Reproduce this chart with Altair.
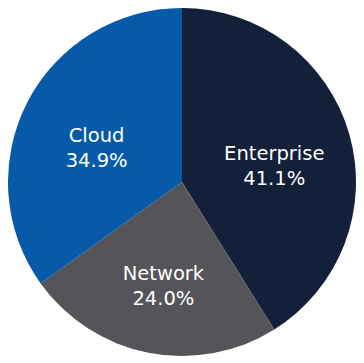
import altair as alt
import pandas as pd

categories = ["Enterprise", "Network", "Cloud"]
shares = [41.1, 24.0, 34.9]
pct_labels = ["41.1%", "24.0%", "34.9%"]
colors = ["#14203a", "#545459", "#075aa8"]

df = pd.DataFrame({
    "category": categories,
    "share": shares,
    "pct": pct_labels,
    "order": list(range(len(categories))),
})

base = alt.Chart(df).encode(
    theta=alt.Theta("share:Q", stack=True),
    order=alt.Order("order:Q"),
)

pie = base.mark_arc(outerRadius=174, strokeWidth=0).encode(
    color=alt.Color("category:N", scale=alt.Scale(domain=categories, range=colors), legend=None)
)

font = "DejaVu Sans"
name_txt = base.mark_text(radius=96, dy=-2, font=font, fontSize=19.5, color="white").encode(
    text="category:N"
)
pct_txt = base.mark_text(radius=96, dy=23, font=font, fontSize=19.5, color="white").encode(
    text="pct:N"
)

chart = (pie + name_txt + pct_txt).properties(
    width=346, height=344, padding=0, background="white"
).configure_view(stroke=None)

chart.save("out.html", embed_options={"renderer": "svg", "actions": False})
